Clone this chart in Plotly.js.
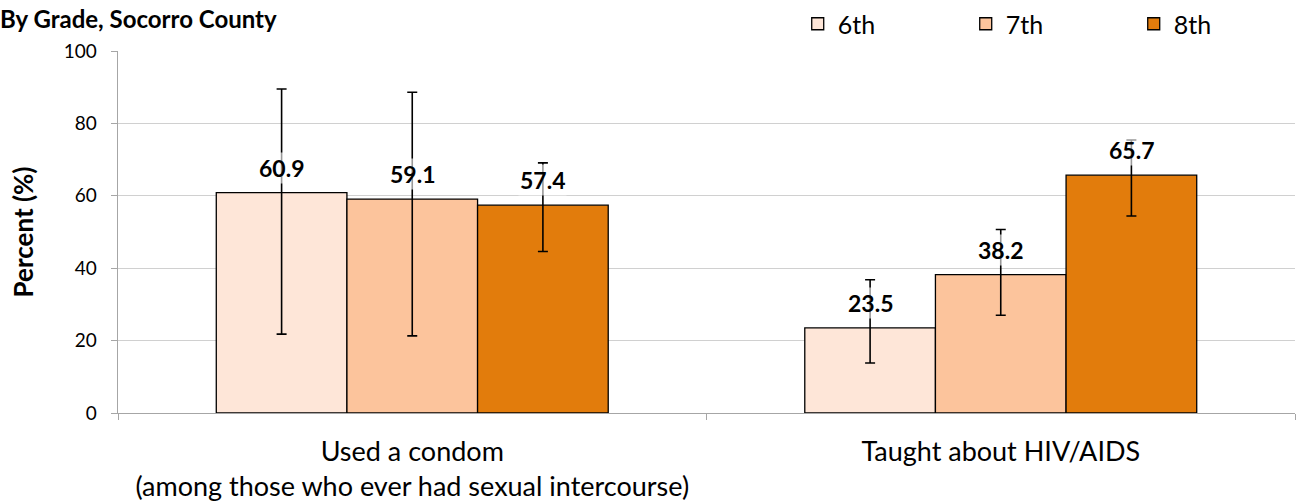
<!DOCTYPE html>
<html>
<head>
<meta charset="utf-8">
<script src="https://cdn.plot.ly/plotly-3.0.1.min.js"></script>
<style>html,body{margin:0;padding:0;background:#fff}#chart{width:1297px;height:502px}</style>
</head>
<body>
<div id="chart"></div>
<script>
const categories = ["Used a condom<br>(among those who ever had sexual intercourse)", "Taught about HIV/AIDS"];
const grades = ["6th", "7th", "8th"];
const values6 = [60.9, 23.5];
const values7 = [59.1, 38.2];
const values8 = [57.4, 65.7];
const lower6 = [21.8, 13.8];
const lower7 = [21.3, 27.0];
const lower8 = [44.6, 54.4];
const upper6 = [89.5, 36.8];
const upper7 = [88.6, 50.7];
const upper8 = [69.1, 75.4];
const yTicks = [0, 20, 40, 60, 80, 100];

const colors = ["#FEE6D8", "#FCC49C", "#E27C0C"];
const series = [
  {name: grades[0], v: values6, lo: lower6, hi: upper6},
  {name: grades[1], v: values7, lo: lower7, hi: upper7},
  {name: grades[2], v: values8, lo: lower8, hi: upper8}
];
const FONT = "Lato, 'Open Sans', sans-serif";

const traces = series.map((s, i) => ({
  type: "bar",
  name: s.name,
  x: categories,
  y: s.v,
  marker: {color: colors[i], line: {color: "#000", width: 1.3}},
  error_y: {
    type: "data", symmetric: false,
    array: s.v.map((v, k) => s.hi[k] - v),
    arrayminus: s.v.map((v, k) => v - s.lo[k]),
    color: "#000", thickness: 1.6, width: 5
  },
  hoverinfo: "skip"
}));

const plotW = 1297 - 118 - 2;
const bargap = 0.334;
const barPx = plotW / categories.length * (1 - bargap) / series.length;

const annotations = [];
series.forEach((s, i) => {
  s.v.forEach((v, k) => {
    annotations.push({
      x: categories[k], y: v, xref: "x", yref: "y",
      text: "<b>" + v.toFixed(1) + "</b>",
      showarrow: false, yanchor: "middle", xanchor: "center",
      yshift: 25, xshift: (i - 1) * barPx,
      bgcolor: "rgba(255,255,255,0.6)",
      font: {family: FONT, size: 23, color: "#000"}
    });
  });
});

const layout = {
  width: 1297, height: 502,
  margin: {l: 118, r: 2, t: 51, b: 89, autoexpand: false},
  paper_bgcolor: "#fff", plot_bgcolor: "#fff",
  barmode: "group", bargap: bargap, bargroupgap: 0,
  showlegend: true,
  title: {
    text: "<b>By Grade, Socorro County</b>",
    x: 0, xanchor: "left", xref: "container",
    y: 1 - 20 / 502, yanchor: "middle", yref: "container",
    pad: {l: 0, r: 0, t: 0, b: 0},
    font: {family: FONT, size: 24, color: "#000"}
  },
  legend: {
    orientation: "h", x: 0.5775, xanchor: "left", y: 1 + 27 / 362, yanchor: "middle",
    font: {family: FONT, size: 25, color: "#000"},
    entrywidth: 123, entrywidthmode: "pixels", traceorder: "normal",
    bgcolor: "rgba(0,0,0,0)"
  },
  xaxis: {
    type: "category", tickson: "boundaries", ticks: "outside", ticklen: 6,
    tickcolor: "#A6A6A6", showline: true, linecolor: "#A6A6A6", linewidth: 1.3,
    showgrid: false, zeroline: false, automargin: false, ticklabelstandoff: 14,
    tickfont: {family: FONT, size: 27, color: "#000"}
  },
  yaxis: {
    range: [0, 100], tickvals: yTicks, ticks: "outside", ticklen: 6,
    tickcolor: "#A6A6A6", showline: true, linecolor: "#A6A6A6", linewidth: 1.3,
    showgrid: true, gridcolor: "#D0D0D0", gridwidth: 1.3, zeroline: false, automargin: false,
    ticklabelstandoff: 10,
    tickfont: {family: FONT, size: 19, color: "#000"},
    title: {text: "<b>Percent (%)</b>", standoff: 22, font: {family: FONT, size: 26, color: "#000"}}
  },
  annotations: annotations
};

Plotly.newPlot("chart", traces, layout, {displayModeBar: false, staticPlot: true});
</script>
</body>
</html>
